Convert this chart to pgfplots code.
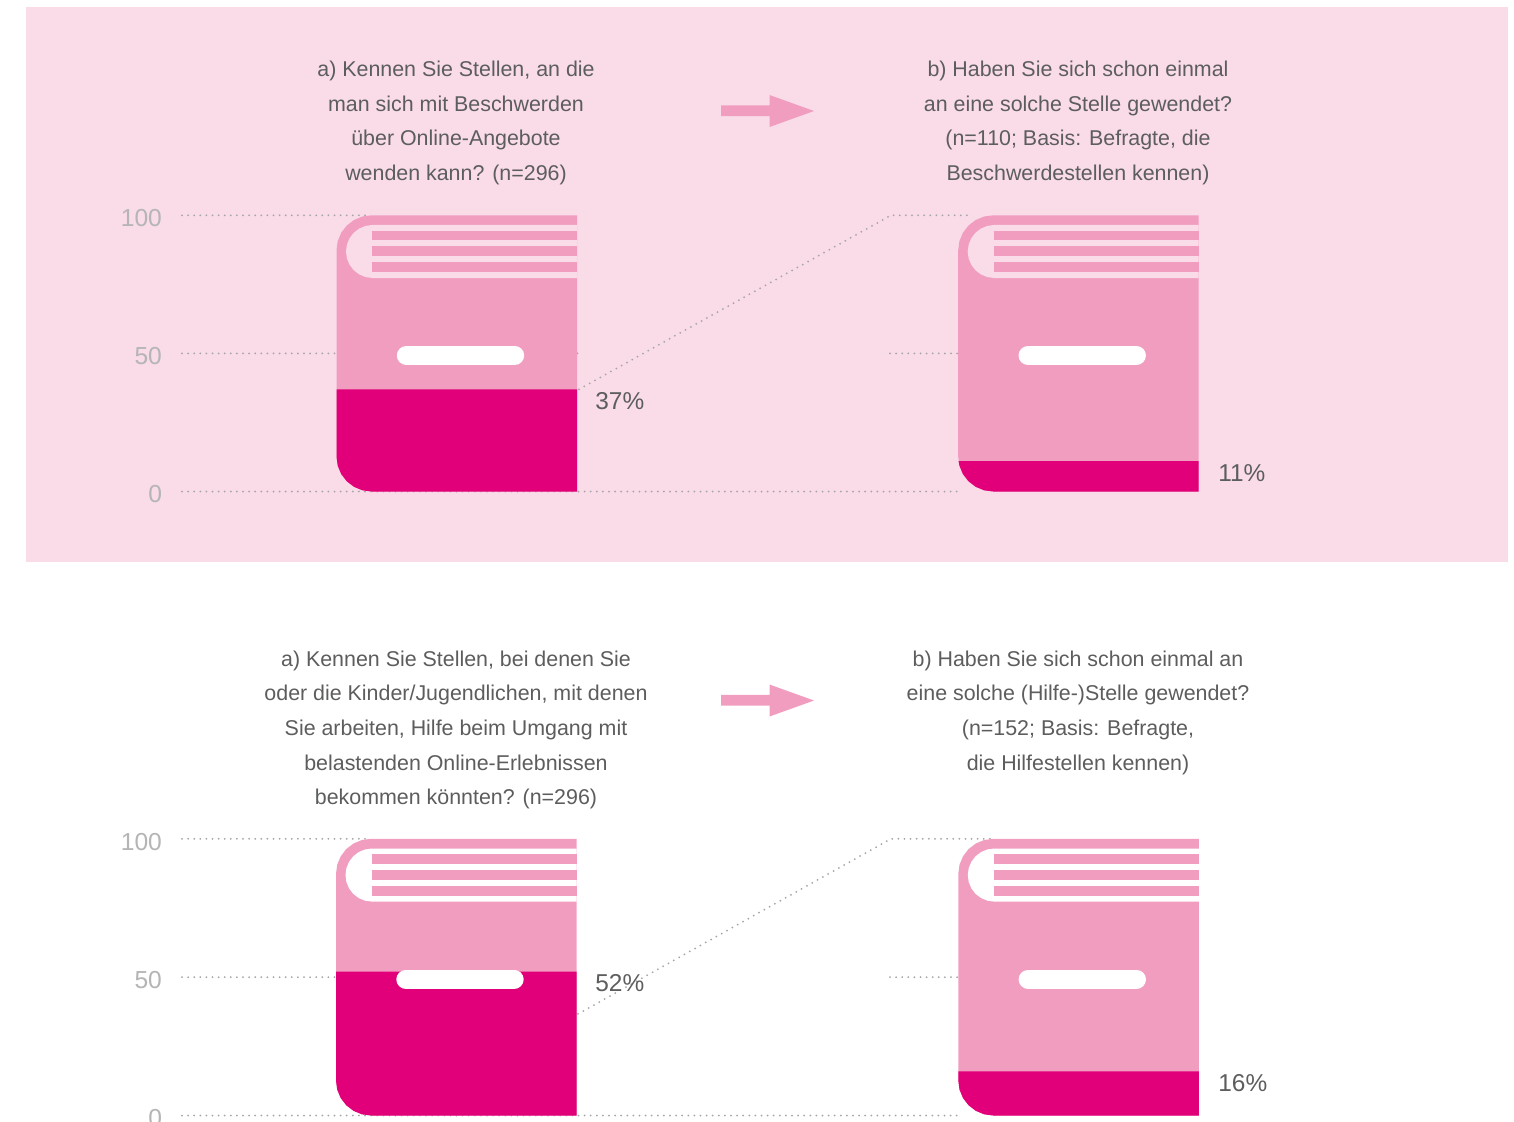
\documentclass[border=0pt]{standalone}
\usepackage{pgfplots}
\usepackage{pgfplotstable}
\usepackage{fontspec}
\setmainfont{Liberation Sans}
\pgfplotsset{compat=1.18}
\definecolor{panelbg}{HTML}{FADBE8}
\definecolor{mid}{HTML}{F09DBF}
\definecolor{dark}{HTML}{E2007A}
\definecolor{tg}{HTML}{5C5D5F}
\definecolor{tick}{HTML}{B5B5B5}
\definecolor{dots}{HTML}{A5A5A5}
\pgfplotstableread{
x y
0 12.66
0 87.34
1.19 90.62
4.69 93.67
10.25 96.29
17.5 98.30
25.94 99.57
35 100
240.5 100
240.5 0
35 0
25.94 0.43
17.5 1.70
10.25 3.71
4.69 6.33
1.19 9.38
}\bookback
\pgfplotstableread{
x y
240.5 96.5
36 96.5
29.14 96.17
22.75 95.21
17.26 93.69
13.05 91.7
10.4 89.38
9.5 86.9
10.4 84.42
13.05 82.1
17.26 80.11
22.75 78.59
29.14 77.63
36 77.3
240.5 77.3
}\bookpage
\pgfplotstableread{
x y
35.5 94.5
240.5 94.5
240.5 90.9
35.5 90.9
}\lineA
\pgfplotstableread{
x y
35.5 88.8
240.5 88.8
240.5 85.2
35.5 85.2
}\lineB
\pgfplotstableread{
x y
35.5 83.1
240.5 83.1
240.5 79.5
35.5 79.5
}\lineC
\pgfplotstableread{
x y
69.8 49.25
178.2 49.25
}\pill
\newcommand\drawback[1]{\addplot[fill=mid,draw=none] table[x expr=\thisrow{x}+#1,y=y] {\bookback};}
\newcommand\drawfront[2]{%
\addplot[fill=#2,draw=none] table[x expr=\thisrow{x}+#1,y=y] {\bookpage};
\addplot[fill=mid,draw=none] table[x expr=\thisrow{x}+#1,y=y] {\lineA};
\addplot[fill=mid,draw=none] table[x expr=\thisrow{x}+#1,y=y] {\lineB};
\addplot[fill=mid,draw=none] table[x expr=\thisrow{x}+#1,y=y] {\lineC};
\addplot[draw=white,line width=9.5pt,line cap=round] table[x expr=\thisrow{x}+#1,y=y] {\pill};
}
\pgfplotsset{bookaxis/.style={
  scale only axis,width=509pt,xmin=182,xmax=1200,ymin=0,ymax=100,
  anchor=south west,clip=false,axis line style={draw=none},
  xtick=\empty,ytick={0,50,100},major tick length=0pt,
  tick label style={font=\fontsize{12.3}{14}\selectfont,text=tick},
  /pgf/number format/assume math mode=true,
  yticklabel style={xshift=-6.5pt,yshift=-1.5pt},tick align=outside,
}}
\tikzset{dl/.style={draw=dots,line width=1pt,line cap=round,dash pattern=on 0pt off 3.05pt}}
\newcommand\tl[3]{\node[anchor=base,text=tg,inner sep=0pt,font=\fontsize{10.7}{13}\selectfont] at (#1,#2) {#3};}
\newcommand\pct[3]{\node[anchor=west,text=tg,inner sep=0pt,font=\fontsize{12.2}{14}\selectfont] at (axis cs:#1,#2) {#3};}
\begin{document}
\begin{tikzpicture}
\useasboundingbox (0,0) rectangle (757pt,-560.5pt);
\clip (0,0) rectangle (757pt,-560.5pt);
\fill[white] (0,0) rectangle (757pt,-560.5pt);
\begin{scope}[x=0.5pt,y=-0.5pt]
\fill[panelbg] (26,7) rectangle (1508,562);
\fill[mid] (721,105.3) -- (769.5,105.3) -- (769.5,95) -- (814,111) -- (769.5,127) -- (769.5,116) -- (721,116) -- cycle;
\fill[mid] (721,694.8) -- (769.5,694.8) -- (769.5,684.5) -- (814,700.5) -- (769.5,716.5) -- (769.5,705.5) -- (721,705.5) -- cycle;
\end{scope}
% upper chart
\begin{axis}[bookaxis,at={(91pt,-245.75pt)},height=138.1pt]
\addplot[dl] coordinates {(182,100)(370,100)};
\addplot[dl] coordinates {(182,50)(340,50)};
\addplot[dl] coordinates {(182,0)(962,0)};
\addplot[dl] coordinates {(579,37)(891,100)(970,100)};
\addplot[dl] coordinates {(890,50)(962,50)};
\addplot[dl] coordinates {(577.5,50)(579,50)};
\drawback{336.5}
\addplot[fill=dark,draw=none] coordinates {(336.5,37)(577,37)(577,0)(371.5,0)(362.44,0.43)(354,1.70)(346.75,3.71)(341.19,6.33)(337.69,9.38)(336.5,12.66)};
\drawfront{336.5}{panelbg}
\drawback{958.2}
\addplot[fill=dark,draw=none] coordinates {(958.6,11)(1198.7,11)(1198.7,0)(993.2,0)(984.14,0.43)(975.7,1.70)(968.45,3.71)(962.89,6.33)(959.39,9.38)};
\drawfront{958.2}{panelbg}
\pct{595}{32.7}{37\%}
\pct{1218}{6.7}{11\%}
\end{axis}
% lower chart
\begin{axis}[bookaxis,at={(91pt,-557.75pt)},height=138.35pt]
\addplot[dl] coordinates {(182,100)(370,100)};
\addplot[dl] coordinates {(182,50)(340,50)};
\addplot[dl] coordinates {(182,0)(962,0)};
\addplot[dl] coordinates {(578,36.7)(891,100)(990,100)};
\addplot[dl] coordinates {(890,50)(962,50)};
\drawback{336}
\addplot[fill=dark,draw=none] coordinates {(336,52)(576.5,52)(576.5,0)(371,0)(361.94,0.43)(353.5,1.70)(346.25,3.71)(340.69,6.33)(337.19,9.38)(336,12.66)};
\drawfront{336}{white}
\drawback{958.3}
\addplot[fill=dark,draw=none] coordinates {(958.3,16)(1198.8,16)(1198.8,0)(993.3,0)(984.24,0.43)(975.8,1.70)(968.55,3.71)(962.99,6.33)(959.49,9.38)(958.3,12.66)};
\drawfront{958.3}{white}
\pct{595}{47.9}{52\%}
\pct{1218}{11.6}{16\%}
\end{axis}
\begin{scope}[x=0.5pt,y=-0.5pt]
\tl{456}{76}{a) Kennen Sie Stellen, an die}
\tl{456}{111}{man sich mit Beschwerden}
\tl{456}{145.5}{über Online-Angebote}
\tl{456}{180}{wenden kann? (n=296)}
\tl{1078}{76}{b) Haben Sie sich schon einmal}
\tl{1078}{111}{an eine solche Stelle gewendet?}
\tl{1078}{145.5}{(n=110; Basis: Befragte, die}
\tl{1078}{180}{Beschwerdestellen kennen)}
\tl{456}{666}{a) Kennen Sie Stellen, bei denen Sie}
\tl{456}{700}{oder die Kinder/Jugendlichen, mit denen}
\tl{456}{735}{Sie arbeiten, Hilfe beim Umgang mit}
\tl{456}{770}{belastenden Online-Erlebnissen}
\tl{456}{804}{bekommen könnten? (n=296)}
\tl{1078}{666}{b) Haben Sie sich schon einmal an}
\tl{1078}{700}{eine solche (Hilfe-)Stelle gewendet?}
\tl{1078}{735}{(n=152; Basis: Befragte,}
\tl{1078}{770}{die Hilfestellen kennen)}
\end{scope}
\end{tikzpicture}
\end{document}
